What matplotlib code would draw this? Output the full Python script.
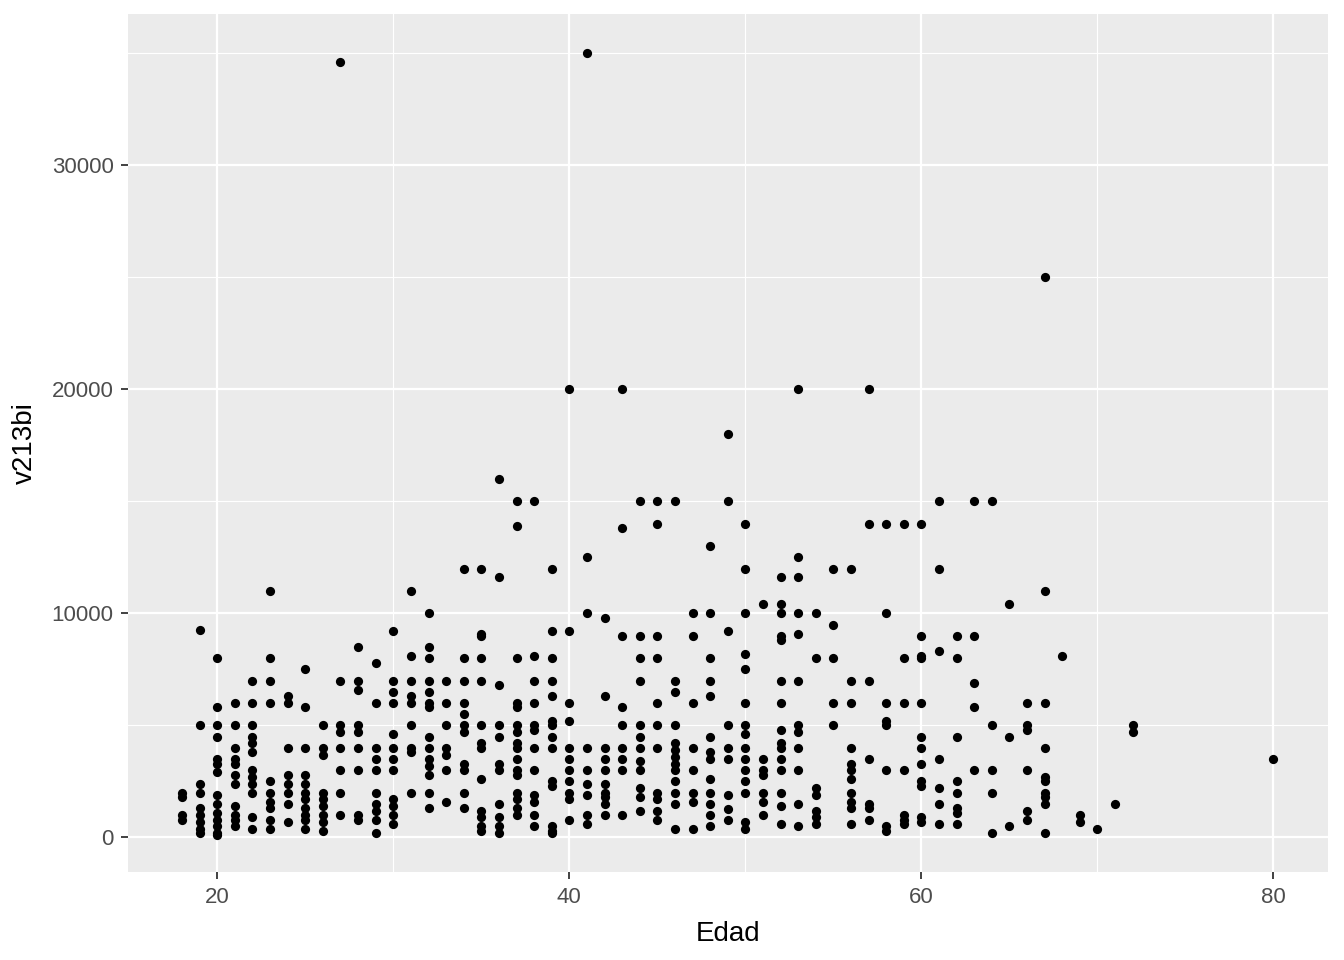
import matplotlib
matplotlib.use("Agg")
import matplotlib.pyplot as plt
from matplotlib.ticker import MultipleLocator

# ---- data ----
ages = [18, 19, 20, 21, 22, 23, 24, 25, 26, 27, 28, 29, 30, 31, 32, 33, 34, 35, 36, 37,
        38, 39, 40, 41, 42, 43, 44, 45, 46, 47, 48, 49, 50, 51, 52, 53, 54, 55, 56, 57,
        58, 59, 60, 61, 62, 63, 64, 65, 66, 67, 68, 69, 70, 71, 72, 80]
values_by_age = [
    [2000, 1800, 1000, 800],
    [9250, 5000, 2400, 2000, 1300, 1000, 700, 400, 200],
    [8000, 5800, 5000, 4500, 3500, 3300, 2900, 1900, 1500, 1100, 800, 500, 200, 100],
    [6000, 5000, 4000, 3500, 3300, 2800, 2400, 1400, 1000, 800, 500],
    [7000, 6000, 5000, 4500, 4200, 3800, 3000, 2700, 2400, 2000, 900, 400],
    [11000, 8000, 7000, 6000, 2500, 2000, 1600, 1300, 800, 400],
    [6300, 6000, 4000, 2800, 2400, 2000, 1500, 700],
    [7500, 5800, 4000, 2800, 2400, 2000, 1700, 1300, 1000, 800, 400],
    [5000, 4000, 3700, 2000, 1700, 1400, 1000, 700, 300],
    [34600, 7000, 5000, 4700, 4000, 3000, 2000, 1000],
    [8500, 7000, 6600, 5000, 4700, 4000, 3000, 1000, 800],
    [7800, 6000, 4000, 3500, 3000, 2000, 1500, 1200, 800, 200],
    [9200, 7000, 6500, 6000, 4600, 4000, 3500, 3000, 1700, 1400, 1000, 600],
    [11000, 8100, 7000, 6300, 6000, 5000, 4000, 3800, 2000],
    [10000, 8500, 8000, 7000, 6500, 6000, 5800, 4500, 4000, 3500, 3200, 2800, 2000, 1300],
    [7000, 6000, 5000, 4000, 3700, 3000, 1600],
    [12000, 8000, 7000, 6000, 5500, 5000, 4700, 3300, 3000, 2000, 1300],
    [12000, 9100, 9000, 8000, 7000, 5000, 4200, 4000, 2600, 1200, 900, 500, 300],
    [16000, 11600, 6800, 5000, 4500, 3300, 3000, 1500, 900, 500, 200],
    [15000, 13900, 8000, 6000, 5800, 5000, 4700, 4200, 4000, 3500, 3000, 2800, 2000, 1700, 1300, 1000],
    [15000, 8100, 7000, 6000, 5000, 4800, 4000, 3000, 1900, 1600, 1000, 500],
    [12000, 9200, 8000, 7000, 6300, 5200, 5000, 4500, 4000, 2500, 2300, 500, 300, 200],
    [20000, 9200, 6000, 5200, 4000, 3500, 3000, 2500, 2000, 1700, 800],
    [35000, 12500, 10000, 4000, 3000, 2400, 1900, 1000, 600],
    [9800, 6300, 4000, 3500, 3000, 2400, 2000, 1800, 1500, 1000],
    [20000, 13800, 9000, 5800, 5000, 4000, 3500, 3000, 1000],
    [15000, 9000, 8000, 7000, 5000, 4500, 4000, 3400, 3000, 2200, 1800, 1200],
    [15000, 14000, 9000, 8000, 6000, 5000, 4000, 2000, 1700, 1200, 800],
    [15000, 7000, 6500, 5000, 4200, 3900, 3600, 3300, 3000, 2500, 2000, 1500, 400],
    [10000, 9000, 6000, 4000, 3000, 2000, 1600, 400],
    [13000, 10000, 8000, 7000, 6300, 4500, 3800, 3500, 2600, 2000, 1500, 1000, 500],
    [18000, 15000, 9200, 5000, 4000, 3500, 1900, 1250, 800],
    [14000, 12000, 10000, 8200, 7500, 6000, 5000, 4600, 4000, 3500, 3000, 2500, 2000, 700, 400],
    [10400, 3500, 3000, 2800, 2000, 1600, 1000],
    [11600, 10400, 10000, 9000, 8800, 7000, 6000, 4800, 4200, 4000, 3500, 3000, 2000, 1400, 600],
    [20000, 12500, 11600, 10000, 9100, 7000, 5000, 4700, 4000, 3000, 1500, 500],
    [10000, 8000, 2200, 1900, 1200, 900, 600],
    [12000, 9500, 8000, 6000, 5000],
    [12000, 7000, 6000, 4000, 3300, 3000, 2600, 2000, 1600, 1300, 600],
    [20000, 14000, 7000, 3500, 1500, 1300, 800],
    [14000, 10000, 6000, 5200, 5000, 3000, 500, 300],
    [14000, 8000, 6000, 3000, 1000, 800, 600],
    [14000, 9000, 8100, 8000, 6000, 4500, 4000, 3300, 2500, 2300, 900, 700],
    [15000, 12000, 8300, 3500, 2200, 1500, 600],
    [9000, 8000, 4500, 2500, 2000, 1300, 1100, 600],
    [15000, 9000, 6900, 5800, 3000],
    [15000, 5000, 3000, 2000, 200],
    [10400, 4500, 500],
    [6000, 5000, 4800, 3000, 1200, 800],
    [25000, 11000, 6000, 4000, 2700, 2500, 2000, 1800, 1500, 200],
    [8100],
    [1000, 700],
    [400],
    [1500],
    [5000, 4700],
    [3500],
]

x_ticks = [20, 40, 60, 80]
y_ticks = [0, 10000, 20000, 30000]
x_label = "Edad"
y_label = "v213bi"

edad = [a for a, vals in zip(ages, values_by_age) for _ in vals]
v213bi = [v for vals in values_by_age for v in vals]

# ---- figure ----
plt.rcParams['font.family'] = ['Liberation Sans', 'DejaVu Sans']
fig = plt.figure(figsize=(13.44, 9.6), dpi=100)
L, R, T, B = 127.5, 1328, 14, 872
ax = fig.add_axes([L/1344, 1-B/960, (R-L)/1344, (B-T)/960])
ax.set_facecolor('#EBEBEB')
for s in ax.spines.values():
    s.set_visible(False)

ax.set_xlim(14.9, 83.1)
ax.set_ylim(-1540, 36740)
ax.set_xticks(x_ticks)
ax.set_yticks(y_ticks)
ax.xaxis.set_minor_locator(MultipleLocator(10))
ax.yaxis.set_minor_locator(MultipleLocator(5000))
ax.grid(which='major', color='white', linewidth=1.6)
ax.grid(which='minor', color='white', linewidth=0.8)
ax.set_axisbelow(True)
ax.tick_params(which='minor', length=0)
ax.tick_params(which='major', length=5, width=1.3, color='#333333',
               labelcolor='#4D4D4D', labelsize=16)
ax.tick_params(axis='x', pad=6)
ax.tick_params(axis='y', pad=5)

ax.scatter(edad, v213bi, s=44, color='black', linewidths=0, zorder=3)

ax.set_xlabel(x_label, fontsize=20, color='black', labelpad=9)
ax.set_ylabel(y_label, fontsize=20, color='black', labelpad=10)

fig.savefig("out.png", dpi=100, facecolor='white')
